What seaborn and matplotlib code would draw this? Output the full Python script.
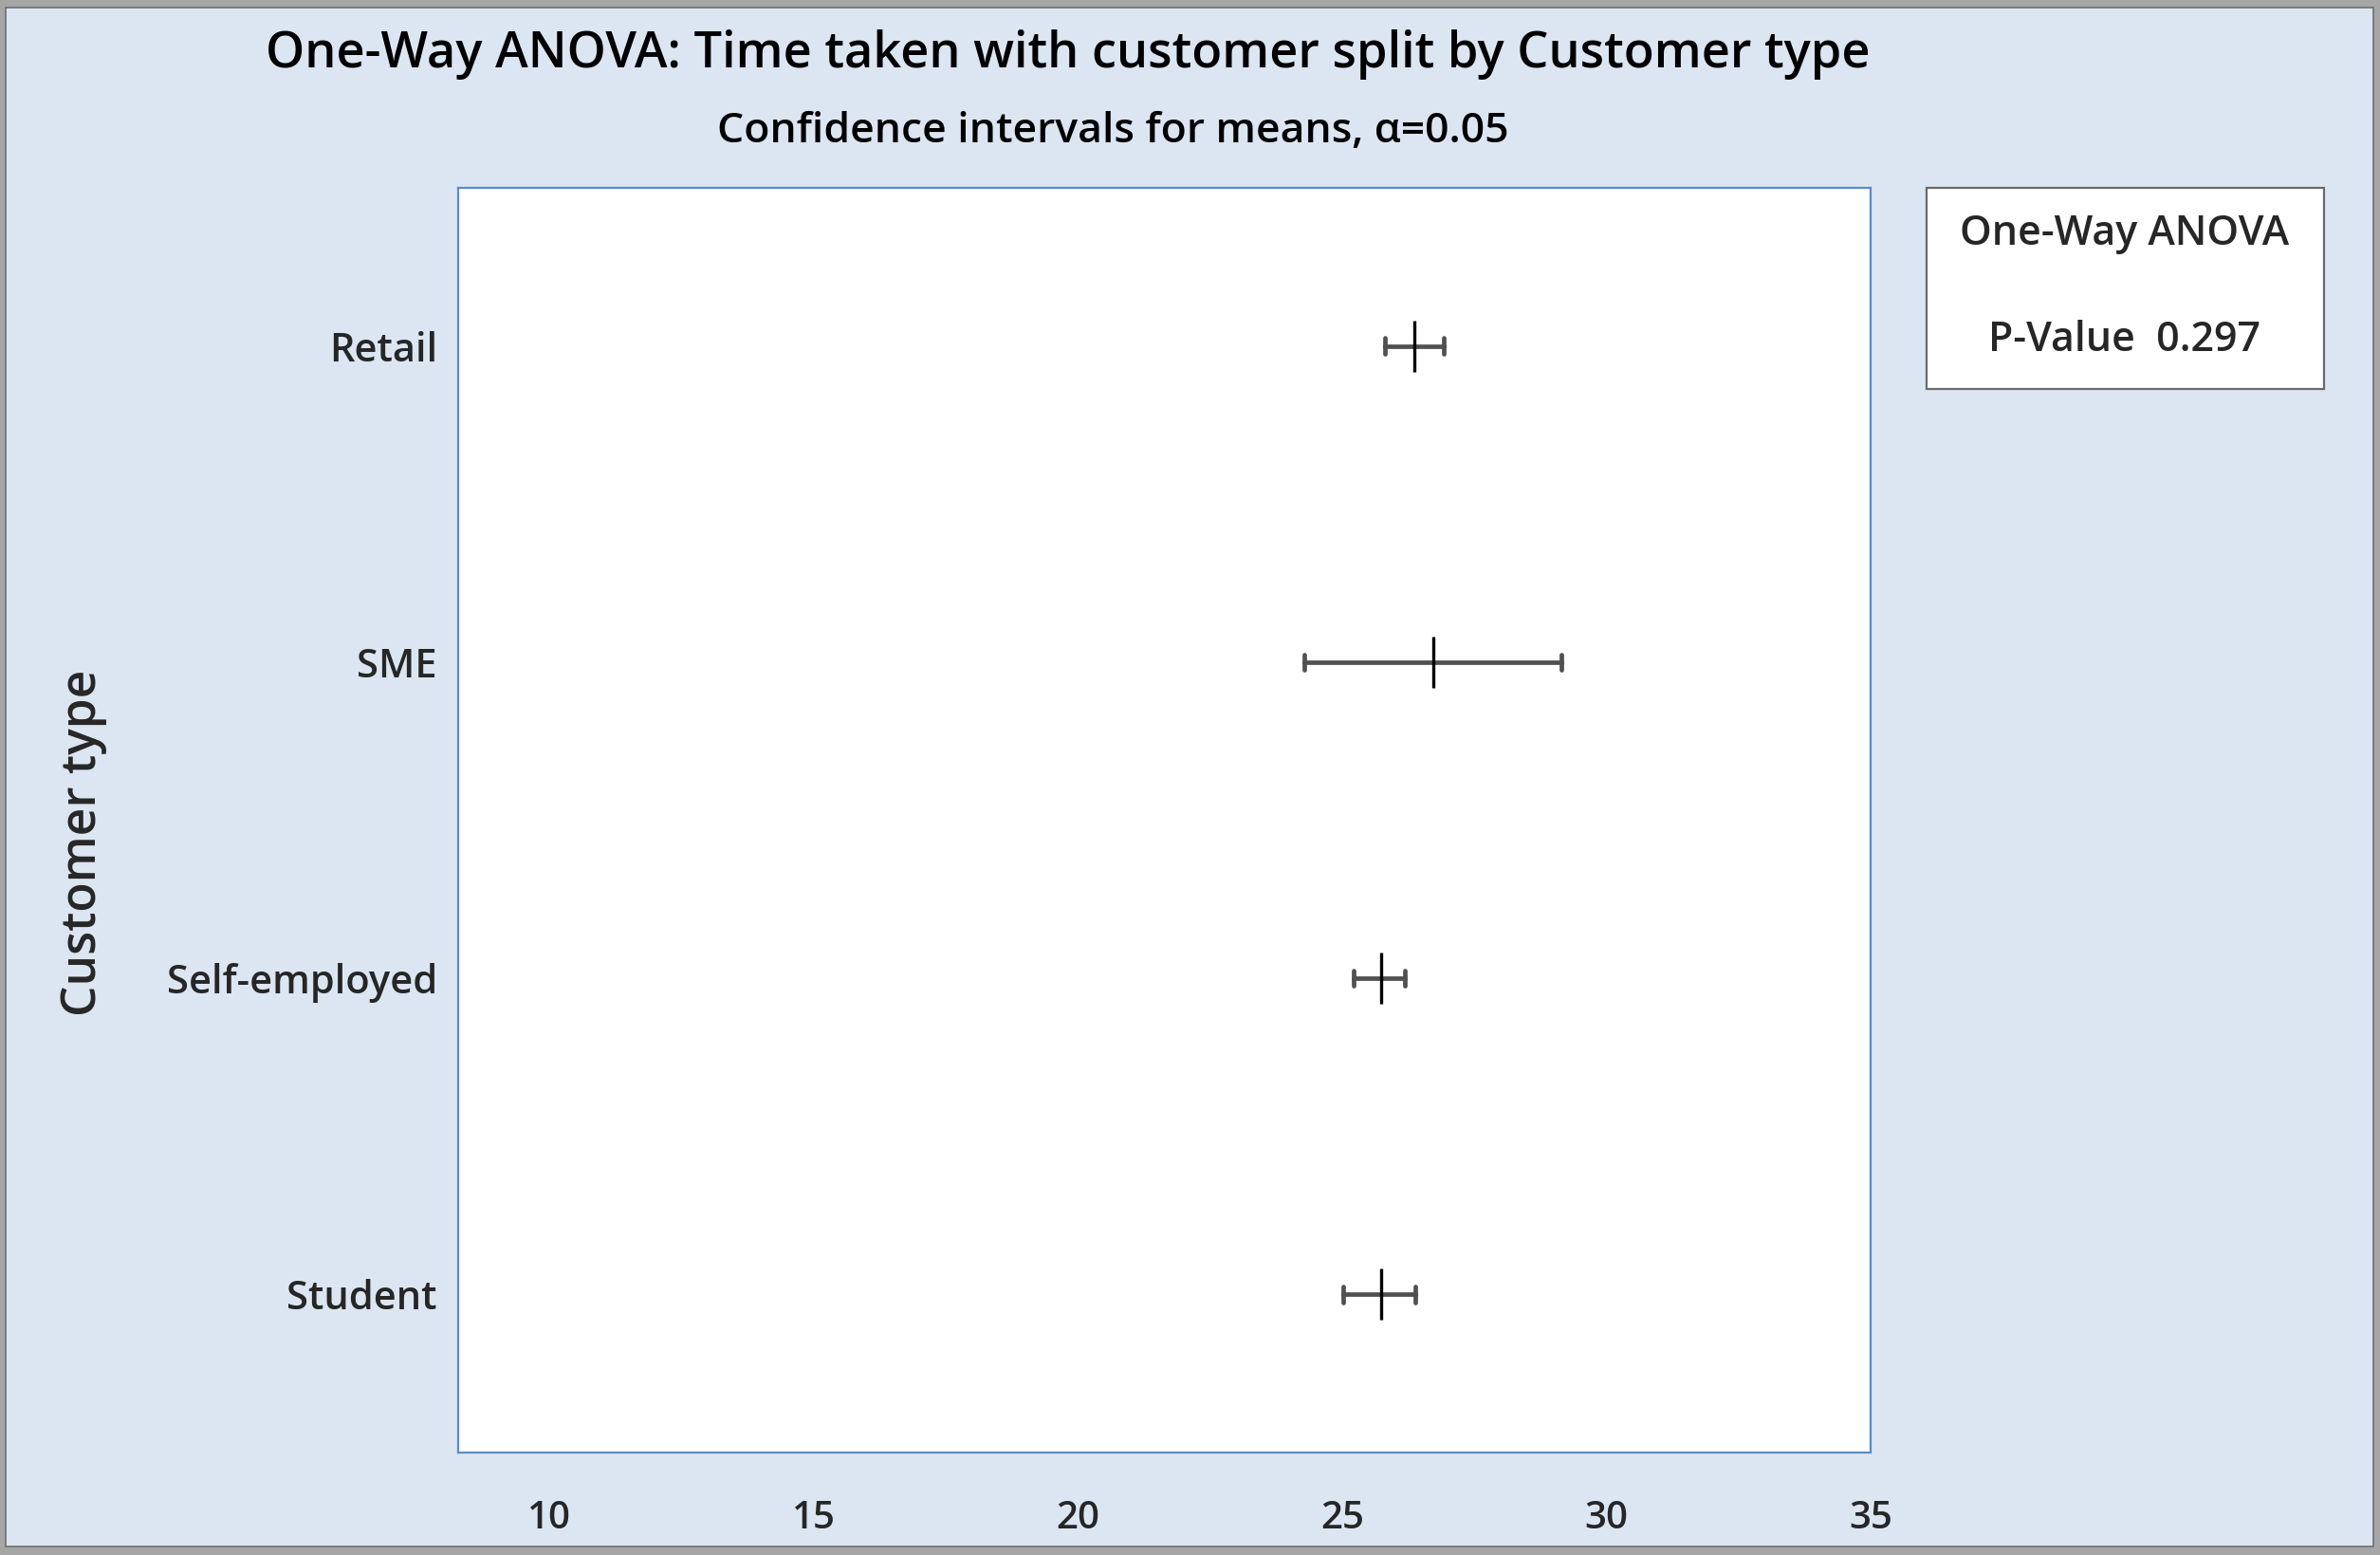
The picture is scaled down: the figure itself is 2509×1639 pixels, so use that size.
import matplotlib
matplotlib.use("Agg")
import matplotlib.pyplot as plt
import matplotlib.patches as mpatches
import seaborn as sns
import pandas as pd

categories = ["Retail", "SME", "Self-employed", "Student"]
means = [26.37, 26.73, 25.73, 25.73]
ci_low = [25.81, 24.28, 25.22, 25.01]
ci_high = [26.92, 29.15, 26.18, 26.39]
x_ticks = [10, 15, 20, 25, 30, 35]
p_value = "0.297"

sns.set_theme(style="white")
plt.rcParams["font.family"] = ["Open Sans", "DejaVu Sans"]
plt.rcParams["font.weight"] = 600

W, H = 2509, 1639
DPI = 100
fig = plt.figure(figsize=(W / DPI, H / DPI), dpi=DPI)
fig.patch.set_facecolor("#A6A6A6")
bg = mpatches.Rectangle((6 / W, 9 / H), (2502 - 6) / W, (1631 - 9) / H,
                        transform=fig.transFigure, facecolor="#DCE6F2",
                        edgecolor="#6E6E6E", linewidth=1.2, zorder=-10)
fig.patches.append(bg)

ax = fig.add_axes([483 / W, 1 - 1531 / H, (1972 - 483) / W, (1531 - 198) / H])
ax.set_facecolor("white")

rows = []
for c, lo, m, hi in zip(categories, ci_low, means, ci_high):
    for v in (lo, m, hi):
        rows.append({"cat": c, "val": v})
df = pd.DataFrame(rows)

sns.pointplot(data=df, x="val", y="cat", order=categories, orient="h",
              estimator="median", errorbar=("pi", 100), markers="",
              linestyles="none", capsize=0.05, color="#4F4F4F",
              err_kws={"linewidth": 3.4, "color": "#505050"}, ax=ax)
mdf = pd.DataFrame({"cat": categories, "val": means})
sns.scatterplot(data=mdf, x="val", y="cat", marker="|", s=1500,
                color="black", linewidth=2.4, ax=ax, zorder=5)

ax.set_xlim(8.27, 35)
ax.set_ylim(3.5, -0.5)
ax.set_xticks(x_ticks)
ax.set_xticklabels([str(t) for t in x_ticks], fontsize=29, fontweight=600)
for lab in ax.get_yticklabels():
    lab.set_fontweight(600)
ax.tick_params(axis="x", length=0, pad=36)
ax.tick_params(axis="y", length=0, pad=16, labelsize=30)
ax.set_xlabel("")
ax.set_ylabel("Customer type", fontsize=37, fontweight=600)
ax.yaxis.set_label_coords(-(483 - 113) / (1972 - 483), 0.482)
for s in ax.spines.values():
    s.set_visible(True)
    s.set_color("#5A8BCB")
    s.set_linewidth(1.6)

fig.text(1126 / W, 1 - 58 / H, "One-Way ANOVA: Time taken with customer split by Customer type",
         ha="center", va="center", fontsize=37.7, fontweight=600, color="black")
fig.text(1173 / W, 1 - 138 / H, "Confidence intervals for means, α=0.05",
         ha="center", va="center", fontsize=32, fontweight=600, color="black")

box = mpatches.Rectangle((2031 / W, 1 - 410 / H), (2450 - 2031) / W, (410 - 198) / H,
                         transform=fig.transFigure, facecolor="white",
                         edgecolor="#6A6A6A", linewidth=1.6)
fig.patches.append(box)
fig.text(2240 / W, 1 - 247 / H, "One-Way ANOVA", ha="center", va="center",
         fontsize=31, fontweight=600)
fig.text(2240 / W, 1 - 358 / H, "P-Value  " + p_value, ha="center", va="center",
         fontsize=31, fontweight=600)

fig.savefig("out.png", dpi=DPI, facecolor=fig.get_facecolor())
